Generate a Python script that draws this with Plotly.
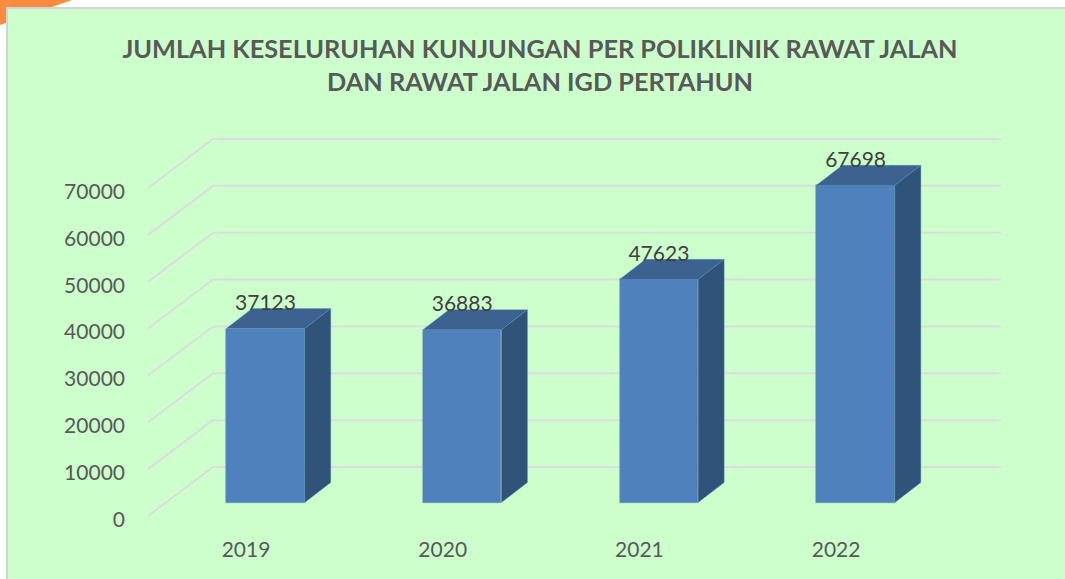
import plotly.graph_objects as go

# ---- data ----
years = [2019, 2020, 2021, 2022]
values = [37123, 36883, 47623, 67698]
axis_ticks = [0, 10000, 20000, 30000, 40000, 50000, 60000, 70000]
title_text = "JUMLAH KESELURUHAN KUNJUNGAN PER POLIKLINIK RAWAT JALAN<br>DAN RAWAT JALAN IGD PERTAHUN"

# ---- geometry of the picture (pixels) ----
W, H = 1065, 579
L, B = 126, 44              # plot area margins
PX_PER_UNIT = 328 / 70000   # vertical scale
PX_PER_YEAR = 196.7
BASE_PX = 502.5             # y pixel of value 0 on the bars' front plane
YEAR0_PX = 265.5            # x pixel of first year
BAR_PX = 78.5
DEPTH_X, DEPTH_Y = 26, 20   # bar depth
plot_h = H - B

def dx(px):
    return px / PX_PER_YEAR

def dy(px):
    return px / PX_PER_UNIT

def x_at(px):
    return years[0] + (px - YEAR0_PX) / PX_PER_YEAR

x_range = [x_at(L), x_at(W)]
y_range = [-(plot_h - BASE_PX) / PX_PER_UNIT, BASE_PX / PX_PER_UNIT]

def px_x(px):
    return (px - L) / (W - L)

def px_y(px):
    return (plot_h - px) / plot_h

# colours
GREEN = "#ccffcc"
FRONT = "#4f81bd"
TOP = "#3c6290"
SIDE = "#305379"
EDGE = "#5f8fb8"
GRID = "#dcdcdc"
TEXT = "#595959"
LABEL = "#404040"
FONT = "Lato"

fig = go.Figure()

# bars
half = dx(BAR_PX) / 2
fig.add_trace(go.Bar(x=years, y=values, width=BAR_PX / PX_PER_YEAR,
                     marker=dict(color=FRONT, line=dict(color=EDGE, width=0.5)),
                     showlegend=False, hoverinfo="x+y"))

# top and side faces
for yr, v in zip(years, values):
    r = yr + half
    l = yr - half
    fig.add_trace(go.Scatter(
        x=[l, r, r + dx(DEPTH_X), l + dx(DEPTH_X), l],
        y=[v, v, v + dy(DEPTH_Y), v + dy(DEPTH_Y), v],
        mode="lines", fill="toself", fillcolor=TOP,
        line=dict(color=EDGE, width=0.4), showlegend=False, hoverinfo="skip"))
    fig.add_trace(go.Scatter(
        x=[r, r + dx(DEPTH_X), r + dx(DEPTH_X), r, r],
        y=[0, dy(DEPTH_Y), v + dy(DEPTH_Y), v, 0],
        mode="lines", fill="toself", fillcolor=SIDE,
        line=dict(color=EDGE, width=0.4), showlegend=False, hoverinfo="skip"))

# data labels
fig.add_trace(go.Scatter(
    x=years, y=[v + dy(23.5) for v in values], mode="text",
    text=[str(v) for v in values], textposition="middle center",
    textfont=dict(family=FONT, size=21, color=LABEL),
    showlegend=False, hoverinfo="skip"))

# carrier for the shifted tick axes
fig.add_trace(go.Scatter(x=years, y=values, xaxis="x2", yaxis="y2", mode="none",
                         showlegend=False, hoverinfo="skip"))

shapes = [
    dict(type="path", xref="paper", yref="paper",
         path=f"M {px_x(0)} {px_y(0)} L {px_x(72)} {px_y(0)} L {px_x(0)} {px_y(25)} Z",
         fillcolor="#f98b3e", line=dict(width=0), layer="below"),
    dict(type="rect", xref="paper", yref="paper",
         x0=px_x(7), x1=px_x(W + 5), y0=px_y(8), y1=px_y(H + 5),
         fillcolor=GREEN, line=dict(color="#d4d4d4", width=2), layer="below"),
]
for t in axis_ticks:
    front_y = t - dy(13.5)
    back_y = t + dy(35.5)
    x_front = x_at(148)
    x_back = x_at(213)
    x_end = x_at(1001)
    for x0, y0, x1, y1 in ((x_front, front_y, x_back, back_y), (x_back, back_y, x_end, back_y)):
        shapes.append(dict(type="line", xref="x", yref="y", x0=x0, y0=y0, x1=x1, y1=y1,
                           line=dict(color=GRID, width=2), layer="below"))

fig.update_layout(
    width=W, height=H, autosize=False,
    margin=dict(l=L, r=0, t=0, b=B, pad=0),
    paper_bgcolor="white", plot_bgcolor="rgba(0,0,0,0)",
    showlegend=False, bargap=0,
    font=dict(family=FONT, color=TEXT),
    title=dict(text=title_text, x=px_x(540), xref="paper", xanchor="center",
               y=1 - 58 / H, yref="container", yanchor="middle",
               font=dict(family=FONT, size=25.3, color=TEXT, weight="bold")),
    shapes=shapes,
    xaxis=dict(range=x_range, visible=False, fixedrange=True),
    yaxis=dict(range=y_range, visible=False, fixedrange=True),
    xaxis2=dict(overlaying="x", side="bottom", anchor="y",
                range=[x_range[0] + dx(19.5), x_range[1] + dx(19.5)],
                tickmode="array", tickvals=years, ticktext=[str(y) for y in years],
                showgrid=False, zeroline=False, showline=False, ticks="", fixedrange=True,
                tickfont=dict(family=FONT, size=21, color=TEXT)),
    yaxis2=dict(overlaying="y", side="left", anchor="x",
                range=[y_range[0] + dy(17), y_range[1] + dy(17)],
                tickmode="array", tickvals=axis_ticks, ticktext=[str(t) for t in axis_ticks],
                showgrid=False, zeroline=False, showline=False, ticks="", fixedrange=True,
                tickfont=dict(family=FONT, size=21, color=TEXT)),
)

fig.write_html("out.html", config={"displayModeBar": False},
               post_script="document.body.style.margin='0';document.body.style.overflow='hidden';")
